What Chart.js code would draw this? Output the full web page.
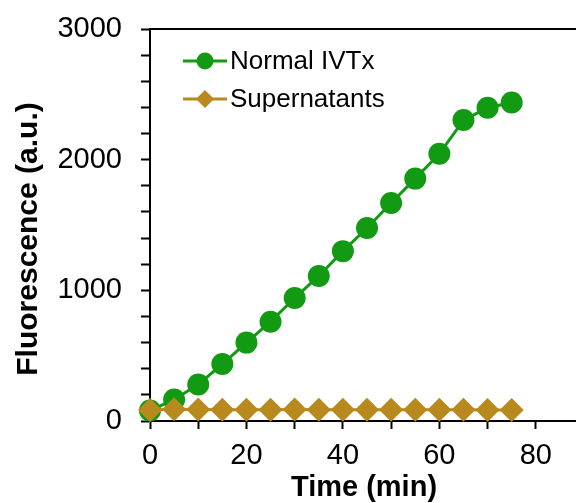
<!DOCTYPE html>
<html>
<head>
<meta charset="utf-8">
<script src="https://cdn.jsdelivr.net/npm/chart.js@4"></script>
<style>
  html, body { margin: 0; padding: 0; overflow: hidden; background: #fff; width: 576px; height: 503px; }
</style>
</head>
<body>
<canvas id="grafico" width="590" height="503"></canvas>
<script>
// tempos (min)
const tempos = [0, 5, 10, 15, 20, 25, 30, 35, 40, 45, 50, 55, 60, 65, 70, 75];
// fluorescencia (a.u.)
const normalIVTx = [80, 165, 280, 436, 600, 760, 941, 1110, 1300, 1477, 1668, 1855, 2045, 2303, 2397, 2438];
const supernatants = [84, 90, 88, 86, 86, 87, 88, 87, 86, 87, 86, 86, 86, 86, 85, 84];
// ticks do eixo x
const xTicks = [0, 10, 20, 30, 40, 50, 60, 70, 80];

const verde = '#139a13';
const dourado = '#b8891c';
const fonte = '"Liberation Sans", Arial, sans-serif';

const legendas = [
    { texto: 'Normal IVTx', cor: verde, estilo: 'circle', raio: 8.5 },
    { texto: 'Supernatants', cor: dourado, estilo: 'rectRot', raio: 9 }
];

// legenda desenhada a mao (linha + marcador) e titulo do eixo y
const legendaPlugin = {
    id: 'legendaPlugin',
    afterDraw(chart) {
        const ctx = chart.ctx;
        const area = chart.chartArea;
        ctx.save();
        legendas.forEach((item, i) => {
            const y = area.top + 32 + i * 38;
            const x0 = area.left + 33;
            ctx.strokeStyle = item.cor;
            ctx.lineWidth = 3;
            ctx.beginPath();
            ctx.moveTo(x0, y);
            ctx.lineTo(x0 + 44, y);
            ctx.stroke();
            ctx.fillStyle = item.cor;
            Chart.helpers.drawPoint(ctx, { pointStyle: item.estilo, radius: item.raio, borderWidth: 0 }, x0 + 22, y);
            ctx.fillStyle = '#000';
            ctx.font = '26px ' + fonte;
            ctx.textBaseline = 'middle';
            ctx.textAlign = 'left';
            ctx.fillText(item.texto, x0 + 47, y + 1);
        });

        // titulo do eixo y
        ctx.translate(29, 239);
        ctx.rotate(-Math.PI / 2);
        ctx.fillStyle = '#000';
        ctx.font = 'bold 30px ' + fonte;
        ctx.textAlign = 'center';
        ctx.textBaseline = 'middle';
        ctx.fillText('Fluorescence (a.u.)', 0, 0);
        ctx.restore();
    }
};

new Chart(document.getElementById('grafico'), {
    type: 'line',
    data: {
        labels: tempos,
        datasets: [
            {
                label: 'Normal IVTx',
                data: tempos.map((t, i) => ({ x: t, y: normalIVTx[i] })),
                borderColor: verde,
                backgroundColor: verde,
                borderWidth: 3,
                pointStyle: 'circle',
                pointRadius: 11,
                pointBorderWidth: 0,
                clip: false,
                order: 1
            },
            {
                label: 'Supernatants',
                data: tempos.map((t, i) => ({ x: t, y: supernatants[i] })),
                borderColor: dourado,
                backgroundColor: dourado,
                borderWidth: 3,
                pointStyle: 'rectRot',
                pointRadius: 12,
                pointBorderWidth: 0,
                clip: false,
                order: 0
            }
        ]
    },
    options: {
        responsive: false,
        animation: false,
        layout: { padding: { top: 29, right: 0, left: 0, bottom: 0 } },
        plugins: {
            legend: { display: false },
            tooltip: { enabled: false }
        },
        scales: {
            x: {
                type: 'linear',
                min: 0,
                max: 88.75,
                afterBuildTicks: axis => { axis.ticks = xTicks.map(v => ({ value: v })); },
                afterFit: axis => { axis.height = 82; axis.paddingRight = 0; axis.paddingLeft = 0; },
                ticks: {
                    color: '#000',
                    padding: 10,
                    maxRotation: 0,
                    autoSkip: false,
                    font: { family: fonte, size: 29 },
                    callback: v => (v % 20 === 0 ? v : '')
                },
                grid: { drawOnChartArea: false, tickLength: 8, tickWidth: 2, color: '#000' },
                border: { color: '#000', width: 2 },
                title: {
                    display: true,
                    text: 'Time (min)',
                    color: '#000',
                    font: { family: fonte, size: 29, weight: 'bold', lineHeight: 1 },
                    padding: { top: 0, bottom: 1 }
                }
            },
            x2: {
                type: 'linear',
                position: 'top',
                min: 0,
                max: 88.75,
                afterFit: axis => { axis.height = 0; axis.paddingRight = 0; axis.paddingLeft = 0; },
                ticks: { display: false },
                grid: { drawOnChartArea: false, drawTicks: false, color: '#000' },
                border: { color: '#000', width: 2 }
            },
            y: {
                min: 0,
                max: 3000,
                afterFit: axis => { axis.width = 150; axis.paddingTop = 0; axis.paddingBottom = 0; },
                ticks: {
                    stepSize: 200,
                    color: '#000',
                    padding: 19,
                    autoSkip: false,
                    font: { family: fonte, size: 29 },
                    callback: v => (v % 1000 === 0 ? v : '')
                },
                grid: { drawOnChartArea: false, tickLength: 9, tickWidth: 2, color: '#000' },
                border: { color: '#000', width: 2 }
            }
        }
    },
    plugins: [legendaPlugin]
});
</script>
</body>
</html>
